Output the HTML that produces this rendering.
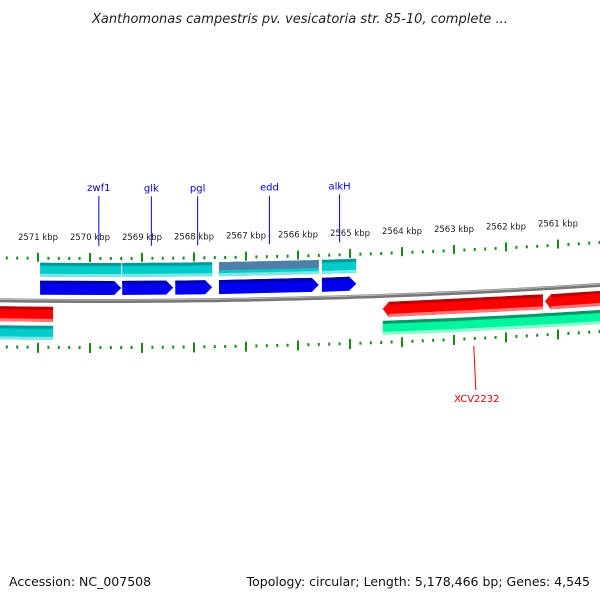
<!DOCTYPE html>
<html><head><meta charset="utf-8"><style>
html,body{margin:0;padding:0;background:#fff;}
svg{display:block;font-family:"DejaVu Sans","Liberation Sans",sans-serif;}
</style></head><body>
<svg id="chart" width="600" height="600" viewBox="0 0 600 600">
<text x="300" y="23" text-anchor="middle" font-size="13" font-style="italic" fill="#222">Xanthomonas campestris pv. vesicatoria str. 85-10, complete ...</text>
<text x="9" y="586" font-size="12.5" fill="#111">Accession: NC_007508</text>
<text x="590" y="586" text-anchor="end" font-size="12.5" fill="#111">Topology: circular; Length: 5,178,466 bp; Genes: 4,545</text>
<g id="plot"></g>
</svg>
<script>
const majorTicks = [2571,2570,2569,2568,2567,2566,2565,2564,2563,2562,2561];
const fwdGenes = [[2570.96,2569.40],[2569.38,2568.40],[2568.36,2567.65],[2567.52,2565.60],[2565.54,2564.88]];
const fwdBars = [[2570.96,2569.40,'c'],[2569.38,2567.65,'c'],[2567.52,2565.60,'s'],[2565.54,2564.88,'c']];
const revGenes = [[2564.37,2561.29],[2561.25,2559.4],[2572.5,2570.71]];
const revBars = [[2564.37,2561.29,'g'],[2561.29,2559.4,'g'],[2572.5,2570.71,'c']];
const geneNames = ['zwf1','glk','pgl','edd','alkH'];
const geneLabelPos = [2569.83,2568.82,2567.93,2566.55,2565.2];
const revNames = ['XCV2232'];
const revLabelPos = [2562.6];

const NS='http://www.w3.org/2000/svg';
const g=document.getElementById('plot');
function kx(k){return 38+(2571-k)*52;}
function by(x){return 301-(x-100)*(x-100)/15600;}
function mk(t,a){const e=document.createElementNS(NS,t);for(const k in a)e.setAttribute(k,a[k]);g.appendChild(e);return e;}
function band(x1,x2,o1,o2,fill,head,tail){
  const pts=[];const n=12;
  for(let i=0;i<=n;i++){const x=x1+(x2-x1)*i/n;pts.push([x,by(x)+o1]);}
  const bot=[];for(let i=n;i>=0;i--){const x=x1+(x2-x1)*i/n;bot.push([x,by(x)+o2]);}
  return pts.concat(bot).map(p=>p[0].toFixed(1)+','+p[1].toFixed(1)).join(' ');
}
// backbone
let d='';for(let x=-5;x<=605;x+=10){d+=(x==-5?'M':'L')+x+','+by(x).toFixed(1);}
const bb1=mk('path',{d:d,stroke:'#777',fill:'none','stroke-width':4});

mk('path',{d:d,stroke:'#bbb',fill:'none','stroke-width':1,transform:'translate(0,-1)'});
// ticks
for(let k=2572.2;k>=2559.4;k-=0.2){
  const kk=Math.round(k*5)/5;const x=kx(kk);if(x<-2||x>602)continue;
  const major=Math.abs(kk-Math.round(kk))<0.01;
  [[-43,-48,-39],[46,42,52]].forEach((o,j)=>{
    const y=by(x);
    let e;
    if(major)e=mk('rect',{x:x-1,y:y+o[1],width:2,height:o[2]-o[1],fill:'#1a8a1a'});
    else e=mk('rect',{x:x-1,y:y+o[0]-1,width:2,height:3,fill:'#1a8a1a'});
    
    
  });
}
majorTicks.forEach(k=>{const x=kx(k);const t=mk('text',{x:x,y:by(x)-61,'text-anchor':'middle','font-size':'8.5',fill:'#222'});t.textContent=k+' kbp';
  });
// forward bars
fwdBars.forEach(b=>{const x1=kx(b[0]),x2=kx(b[1]);
  const top=b[2]=='s'?'#4a7fae':'#008f8f', main=b[2]=='s'?'#5b86b0':'#00cccc';
  const e=mk('polygon',{points:band(x1,x2,-38,-24,'#00cccc'),fill:'#00cccc'});
  
  mk('polygon',{points:band(x1,x2,-38,b[2]=='s'?-30:-35),fill:b[2]=='s'?'#4f7fa8':'#009999'});
  mk('polygon',{points:band(x1,x2,-27,-24),fill:'#7fe6e6'});
});
// forward arrows
fwdGenes.forEach((gn,i)=>{const x1=kx(gn[0]),x2=kx(gn[1]);const h=7;
  const y1=by(x1),y2=by(x2);
  const p=[[x1,y1-20],[x2-h,y2-20],[x2,y2-13],[x2-h,y2-6],[x1,y1-6]];
  const e=mk('polygon',{points:p.map(q=>q.join(',')).join(' '),fill:'#0000ee'});
  
  mk('polygon',{points:[[x1,y1-20],[x2-h,y2-20],[x2-h+2,y2-17],[x1,y1-17]].map(q=>q.join(',')).join(' '),fill:'#0000aa'});
});
// reverse bars
revBars.forEach(b=>{const x1=kx(b[0]),x2=kx(b[1]);const gr=b[2]=='g';
  const e=mk('polygon',{points:band(x1,x2,25,39),fill:gr?'#00f5a0':'#00cccc'});
  
  mk('polygon',{points:band(x1,x2,25,28),fill:gr?'#009966':'#009999'});
  mk('polygon',{points:band(x1,x2,36,39),fill:gr?'#88ffcc':'#7fe6e6'});
});
// reverse arrows
revGenes.forEach((gn,i)=>{const x1=kx(gn[0]),x2=kx(gn[1]);const h=i==2?0:6;
  const y1=by(x1),y2=by(x2);
  const p=[[x1,y1+13],[x1+h,y1+6],[x2,y2+6],[x2,y2+21],[x1+h,y1+21]];
  const e=mk('polygon',{points:p.map(q=>q.join(',')).join(' '),fill:'#ff0000'});
  
  mk('polygon',{points:[[x1+h,y1+6],[x2,y2+6],[x2,y2+9],[x1+h,y1+9]].map(q=>q.join(',')).join(' '),fill:'#bb0000'});
  mk('polygon',{points:[[x1+h,y1+18],[x2,y2+18],[x2,y2+21],[x1+h,y1+21]].map(q=>q.join(',')).join(' '),fill:'#ff7777'});
});
// labels
geneNames.forEach((n,i)=>{const x=kx(geneLabelPos[i]);const ly=by(x)-55;const ty=by(x)-110+i*0.5;
  const l=mk('line',{x1:x,y1:ty+5,x2:x,y2:ly,stroke:'#0000ee','stroke-width':1});
  
  const t=mk('text',{x:x,y:ty,'text-anchor':'middle','font-size':'10',fill:'#0000ee'});t.textContent=n;
  
});
revNames.forEach((n,i)=>{const x=kx(revLabelPos[i]);const y0=by(x);
  const l=mk('line',{x1:x-1,y1:y0+54,x2:x+1,y2:y0+98,stroke:'#ee0000','stroke-width':1});
  
  const t=mk('text',{x:x+2,y:y0+110,'text-anchor':'middle','font-size':'10',fill:'#ee0000'});t.textContent=n;
  
});
</script>
</body></html>
